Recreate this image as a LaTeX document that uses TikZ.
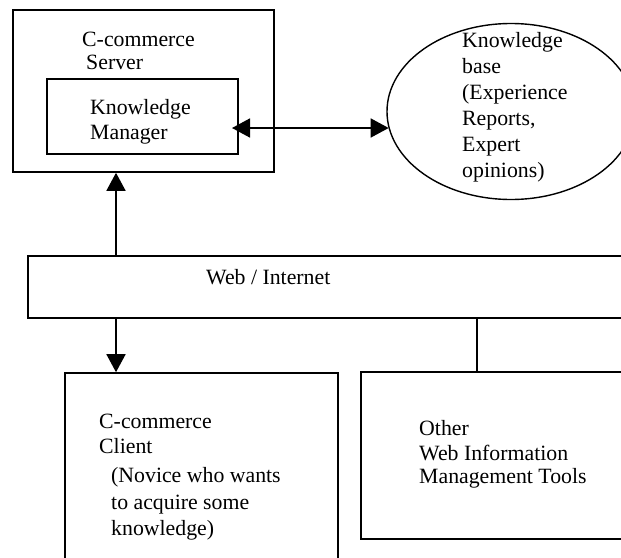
\documentclass[tikz,border=0pt]{standalone}
\usepackage{fontspec}
\setmainfont{Liberation Serif}
\usetikzlibrary{arrows.meta,shapes.geometric}

\begin{document}
\begin{tikzpicture}[x=1pt,y=-1pt,
  box/.style={draw, line width=1.6pt, rectangle, inner sep=0pt},
  lbl/.style={anchor=base west, inner sep=0pt, font=\fontsize{21.8}{25}\selectfont},
  head/.style={-{Triangle[width=19pt,length=18pt]}},
  twohead/.style={{Triangle[width=19pt,length=18pt]}-{Triangle[width=19pt,length=18pt]}},
  link/.style={line width=1.6pt}]
\useasboundingbox (0,0) rectangle (621,557);
\clip (0,0) rectangle (621,557);

% boxes
\node[box, minimum width=261pt, minimum height=162pt] (server) at (143.5,91) {};
\node[box, minimum width=191pt, minimum height=75pt] (km) at (142.5,116.5) {};
\node[draw, ellipse, line width=1.4pt, inner sep=0pt,
      minimum width=248pt, minimum height=176pt] (kb) at (511,111.5) {};
\node[box, minimum width=612pt, minimum height=62pt] (web) at (334,287) {};
\node[box, minimum width=273pt, minimum height=207pt] (client) at (201.5,476.5) {};
\node[box, minimum width=279pt, minimum height=167pt] (other) at (500.5,455.5) {};

% labels
\node[lbl] (srv1) at (82,46.5) {C-commerce};
\node[lbl] (srv2) at (86,69) {Server};
\node[lbl] (km1) at (90,114.3) {Knowledge};
\node[lbl] (km2) at (90,139) {Manager};
\node[lbl] (kbt1) at (462,47.5) {Knowledge};
\node[lbl] (kbt2) at (462,73.5) {base};
\node[lbl] (kbt3) at (462,99.5) {(Experience};
\node[lbl] (kbt4) at (462,125.5) {Reports,};
\node[lbl] (kbt5) at (462,151.5) {Expert};
\node[lbl] (kbt6) at (462,177.5) {opinions)};
\node[lbl] (webt) at (206,284.3) {Web / Internet};
\node[lbl] (cl1) at (99,428) {C-commerce};
\node[lbl] (cl2) at (99,453) {Client};
\node[lbl] (cl3) at (111,482) {(Novice who wants};
\node[lbl] (cl4) at (111,509) {to acquire some};
\node[lbl] (cl5) at (111,535.5) {knowledge)};
\node[lbl] (ot1) at (419,435) {Other};
\node[lbl] (ot2) at (419,460) {Web Information};
\node[lbl] (ot3) at (419,483.3) {Management Tools};

% connectors
\coordinate (kmr) at (232,128);
\coordinate (col) at (116,0);
\coordinate (tap) at (477,0);
\draw[link, twohead] (kmr) -- (kmr -| kb.188);
\draw[link, head] (web.north -| col) -- (server.south -| col);
\draw[link, head] (web.south -| col) -- (client.north -| col);
\draw[link] (web.south -| tap) -- (other.north -| tap);
\end{tikzpicture}
\end{document}
